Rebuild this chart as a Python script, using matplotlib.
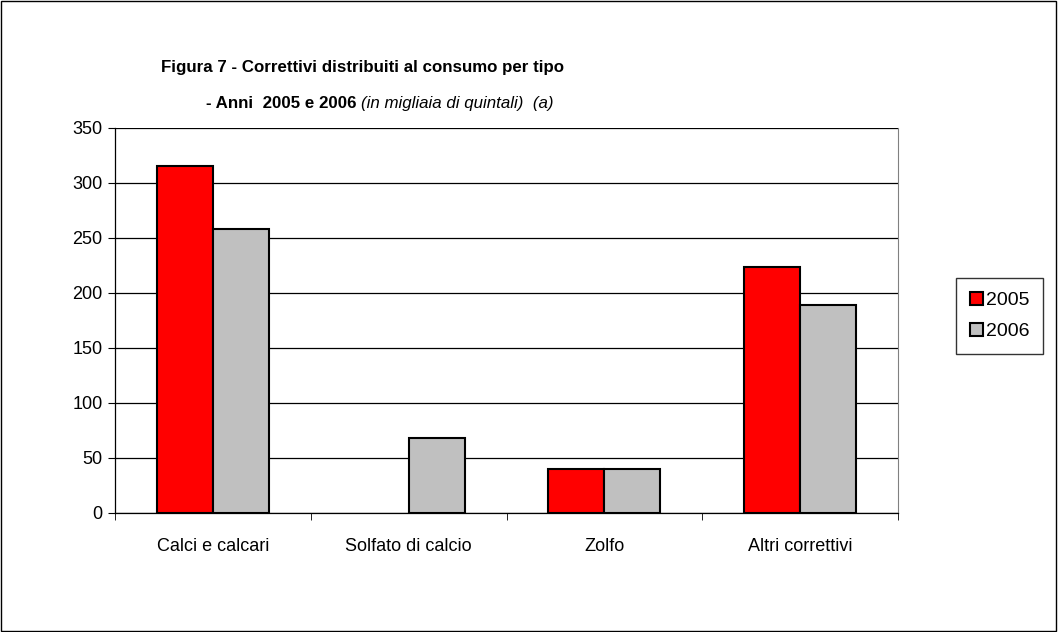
import matplotlib.pyplot as plt
import numpy as np
from matplotlib.patches import Rectangle

plt.rcParams["font.family"] = ["Liberation Sans", "DejaVu Sans"]

categories = ["Calci e calcari", "Solfato di calcio", "Zolfo", "Altri correttivi"]
years = ["2005", "2006"]
values_2005 = [315, 0, 40, 224]
values_2006 = [258, 68, 40, 189]
y_ticks = [0, 50, 100, 150, 200, 250, 300, 350]

fig = plt.figure(figsize=(10.58, 6.32), dpi=100)
ax = fig.add_axes([0.1087, 0.1883, 0.7401, 0.6092])

x = np.arange(len(categories))
width = 0.286
bars_a = ax.bar(x - width / 2, values_2005, width, color="#ff0000", edgecolor="black",
                linewidth=1.5, label=years[0], zorder=3)
bars_b = ax.bar(x + width / 2, values_2006, width, color="#c0c0c0", edgecolor="black",
                linewidth=1.5, label=years[1], zorder=3)
# empty values draw nothing in the original
for bar in list(bars_a) + list(bars_b):
    if bar.get_height() == 0:
        bar.set_visible(False)

ax.set_xlim(-0.5, len(categories) - 0.5)
ax.set_ylim(0, 350)
ax.set_yticks(y_ticks)
ax.yaxis.grid(True, color="black", linewidth=0.9, zorder=0)
ax.set_axisbelow(True)

# category labels centred, tick marks on the boundaries
ax.set_xticks(x)
ax.set_xticklabels(categories, fontsize=13)
ax.tick_params(axis="x", length=0, pad=18)
ax.set_xticks(np.arange(len(categories) + 1) - 0.5, minor=True)
ax.tick_params(axis="x", which="minor", length=5, direction="out", color="black")
ax.tick_params(axis="y", labelsize=13, length=5, direction="out", pad=4)

ax.spines["top"].set_visible(False)
ax.spines["right"].set_color("gray")
ax.spines["left"].set_linewidth(0.9)
ax.spines["bottom"].set_linewidth(0.9)

# title in two lines, second line mixed bold/italic
fig.text(0.343, 0.893, "Figura 7 - Correttivi distribuiti al consumo per tipo",
         ha="center", va="center", fontsize=12.2, fontweight="bold")
t2 = fig.text(0.341, 0.836, "- Anni  2005 e 2006 ", ha="right", va="center",
              fontsize=12.2, fontweight="bold")
ax.annotate("(in migliaia di quintali)  (a)", xy=(1, 0), xycoords=t2,
            ha="left", va="bottom", fontsize=12.2, fontstyle="italic")

ax.legend(loc="center left", bbox_to_anchor=(0.9036, 0.5), bbox_transform=fig.transFigure,
          frameon=True, fancybox=False, edgecolor="black", fontsize=14,
          handlelength=0.7, handleheight=0.7, handletextpad=0.15, borderpad=0.7,
          labelspacing=0.7, borderaxespad=0)

fig.patches.append(Rectangle((0.001, 0.001), 0.997, 0.997, transform=fig.transFigure,
                             fill=False, edgecolor="black", linewidth=1))

fig.savefig("out.png", dpi=100)
